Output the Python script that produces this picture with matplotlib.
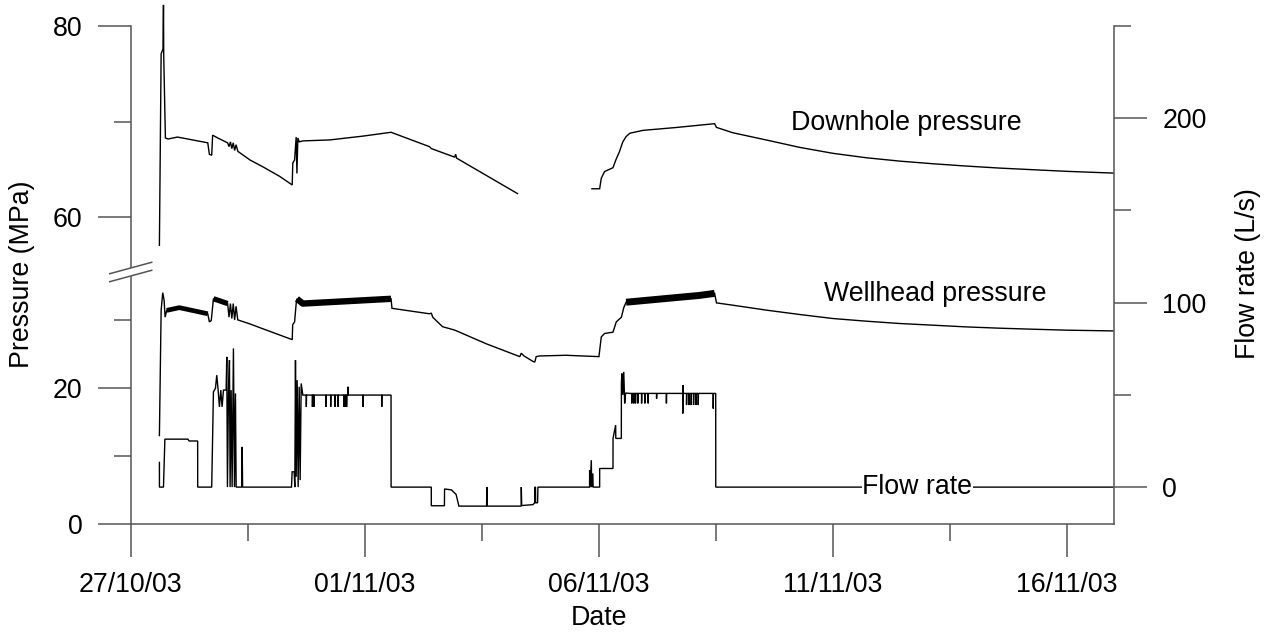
import numpy as np
import matplotlib
matplotlib.use("Agg")
import matplotlib.pyplot as plt
import matplotlib.dates as mdates
from matplotlib.patches import Polygon
from datetime import datetime

plt.rcParams['font.family'] = ['Liberation Sans', 'DejaVu Sans']

START = datetime(2003, 10, 27)

# ---------------- data (time = days since 27/10/03 00:00) ----------------
downhole_t1 = [0.613, 0.65, 0.69, 0.70, 0.705, 0.741, 0.80, 1.00, 1.646, 1.68, 1.73, 1.75,
               1.86, 2.07, 2.10, 2.13, 2.16, 2.19, 2.22, 2.25, 2.29, 2.55, 2.82, 3.18, 3.449,
               3.462, 3.50, 3.534, 3.55, 3.57, 3.60, 3.676, 4.25, 4.96, 5.56, 6.38, 6.42,
               6.92, 6.94, 6.96, 8.26]
downhole_p1 = [57.1, 77.1, 77.6, 82.2, 77.0, 68.3, 68.2, 68.4, 67.8, 66.6, 66.5, 68.6,
               68.3, 67.8, 67.4, 67.9, 67.2, 67.8, 67.0, 67.6, 66.9, 66.0, 65.3, 64.3, 63.4,
               65.7, 66.0, 68.4, 64.6, 68.3, 67.9, 68.0, 68.1, 68.5, 68.9, 67.4, 67.2,
               66.3, 66.6, 66.2, 62.5]
downhole_t2 = [9.85, 10.015, 10.05, 10.12, 10.30, 10.36, 10.44, 10.51, 10.58, 10.66, 10.94,
               11.65, 12.47, 12.51, 12.86, 13.58, 14.29, 15.0, 15.71, 16.42, 17.14, 17.85,
               18.56, 19.27, 19.99, 20.98]
downhole_p2 = [63.0, 63.0, 64.1, 64.8, 65.2, 66.0, 66.9, 67.9, 68.45, 68.8, 69.1,
               69.4, 69.8, 69.41, 68.85, 68.09, 67.32, 66.7, 66.24, 65.89, 65.61, 65.37,
               65.16, 64.99, 64.82, 64.64]

wellhead_t = [0.613, 0.65, 0.684, 0.713, 0.735, 0.77, 1.04, 1.646, 1.68, 1.72, 1.767, 1.86,
              2.07, 2.10, 2.13, 2.16, 2.19, 2.22, 2.25, 2.287, 2.55, 2.82, 3.449, 3.46, 3.50,
              3.534, 3.55, 3.676, 5.56, 5.58, 6.38, 6.42, 6.45, 6.66, 6.92, 7.59, 8.31,
              8.34, 8.40, 8.59, 8.63, 8.66, 8.73, 9.30, 10.00, 10.05, 10.12, 10.30, 10.37,
              10.48, 10.53, 10.58, 12.15, 12.47, 12.51, 12.86, 13.58, 14.29, 15.0, 15.71,
              16.42, 17.14, 17.85, 18.56, 19.27, 19.99, 20.98]
wellhead_p = [13.0, 31.4, 34.0, 32.9, 30.4, 31.4, 31.8, 30.9, 29.7, 29.9, 33.1, 32.9,
              32.4, 30.4, 32.4, 30.2, 32.4, 30.0, 32.0, 30.0, 29.4, 28.7, 27.1, 29.3, 29.7,
              32.4, 33.1, 32.4, 33.1, 31.7, 30.9, 31.0, 30.4, 29.0, 28.5, 26.5, 24.6,
              25.1, 24.7, 23.9, 23.8, 24.6, 24.7, 24.8, 24.6, 27.5, 28.0, 28.2, 29.7,
              30.4, 31.8, 32.6, 33.6, 33.9, 32.5, 32.16, 31.43, 30.79, 30.2, 29.81,
              29.47, 29.22, 28.97, 28.78, 28.63, 28.49, 28.38]
# periods where the wellhead record is a dense noisy band (start, end, band width in pt)
wellhead_noisy = [(0.77, 1.646, 3.4), (1.767, 2.07, 3.8), (3.55, 5.56, 4.6), (10.58, 12.47, 5.0)]

flow_t = [0.613, 0.614, 0.70, 0.73, 1.22, 1.25, 1.43, 1.431, 1.73, 1.767, 1.81, 1.838,
          1.867, 1.895, 1.924, 1.952, 1.981, 2.038, 2.052, 2.066, 2.088, 2.109, 2.123,
          2.145, 2.166, 2.194, 2.216, 2.237, 2.252, 2.37, 2.38, 2.39,
          3.434, 3.448, 3.491, 3.505, 3.519, 3.534, 3.555, 3.576, 3.598, 3.619, 3.641, 3.676,
          3.75, 3.751, 3.755, 3.88, 3.881, 3.885, 3.91, 3.911, 3.915, 4.17, 4.171, 4.175,
          4.27, 4.271, 4.275, 4.36, 4.361, 4.365, 4.43, 4.431, 4.435, 4.55, 4.551, 4.555,
          4.58, 4.581, 4.585, 4.61, 4.611, 4.615, 4.64, 4.641, 4.645, 4.96, 4.961, 4.965,
          5.36, 5.361, 5.365, 5.56, 5.561,
          6.419, 6.42, 6.70, 6.703, 6.85, 6.95, 7.009, 7.60, 7.607, 7.614, 8.34, 8.342,
          8.35, 8.59, 8.63, 8.632, 8.645, 8.647, 8.69, 8.697,
          9.80, 9.801, 9.81, 9.837, 9.845, 9.87, 9.875, 10.015, 10.016, 10.30, 10.301,
          10.357, 10.36, 10.478, 10.48, 10.49, 10.51, 10.53, 10.55, 10.57, 10.66,
          10.70, 10.701, 10.705, 10.74, 10.741, 10.745, 10.78, 10.781, 10.785,
          10.83, 10.831, 10.835, 10.91, 10.911, 10.915, 10.98, 10.981, 10.985,
          11.05, 11.051, 11.055, 11.23, 11.231, 11.235, 11.44, 11.441, 11.445,
          11.79, 11.791, 11.795, 11.80, 11.87, 11.871, 11.875, 11.92, 11.921, 11.925,
          11.97, 11.971, 11.975, 12.02, 12.021, 12.025, 12.07, 12.071, 12.075,
          12.12, 12.121, 12.125, 12.44, 12.441, 12.445, 12.494, 12.495, 20.98]
flow_q = [13.4, 0.0, 0.0, 26.0, 26.0, 25.0, 25.0, 0.0, 0.0, 51.7, 53.5, 60.7,
          52.6, 43.5, 52.6, 43.5, 52.6, 52.6, 70.6, 0.0, 51.0, 68.8, 0.0,
          52.6, 0.0, 75.2, 0.0, 50.8, 0.0, 0.0, 21.8, 0.0,
          0.0, 8.3, 8.3, 0.0, 68.8, 5.6, 58.0, 0.0, 54.4, 3.8, 56.2, 49.9,
          49.9, 43.5, 49.9, 49.9, 43.5, 49.9, 49.9, 43.5, 49.9, 49.9, 43.5, 49.9,
          49.9, 43.5, 49.9, 49.9, 43.5, 49.9, 49.9, 43.5, 49.9, 49.9, 43.5, 49.9,
          49.9, 43.5, 49.9, 49.9, 43.5, 49.9, 49.9, 54.4, 49.9, 49.9, 43.5, 49.9,
          49.9, 43.5, 49.9, 49.9, 0.0,
          0.0, -10.1, -10.1, -1.0, -1.5, -4.0, -10.3, -10.3, 0.0, -10.3, -10.3, 0.0,
          -10.0, -9.5, -8.5, 0.0, 0.0, -8.5, -8.5, 0.0,
          0.0, 9.2, 0.0, 14.6, 0.0, 7.4, 0.0, 0.0, 10.1, 10.1, 26.4,
          33.6, 26.4, 26.4, 56.2, 61.6, 50.0, 62.5, 45.4, 51.0, 50.8,
          50.8, 45.4, 50.8, 50.8, 45.4, 50.8, 50.8, 45.4, 50.8,
          50.8, 45.4, 50.8, 50.8, 45.4, 50.8, 50.8, 45.4, 50.8,
          50.8, 45.4, 50.8, 50.8, 48.0, 50.8, 50.8, 45.4, 50.8,
          50.8, 39.9, 55.3, 50.8, 50.8, 44.5, 50.8, 50.8, 44.5, 50.8,
          50.8, 44.5, 50.8, 50.8, 44.5, 50.8, 50.8, 44.5, 50.8,
          50.8, 44.5, 50.8, 50.8, 42.6, 50.8, 50.8, 0.0, 0.0]

pressure_major = [0, 20, 60, 80]
pressure_minor = [10, 30, 70]
flow_major = [0, 100, 200]
flow_minor = [50, 150, 250]
date_major_days = [0, 5, 10, 15, 20]
date_minor_days = [2.5, 7.5, 12.5, 17.5]

# ---------------- broken pressure scale ----------------
B1, B2 = 37.0, 54.3           # bottom segment ends / top segment starts (MPa)
K_LOW, K_HIGH = 6.8, 9.57     # relative stretch of the two segments
_vp = np.array([-1000.0, B1, B2, 1000.0])
_dp = np.array([-1000.0 * K_LOW, B1 * K_LOW, B1 * K_LOW + 0.2,
                B1 * K_LOW + 0.2 + (1000.0 - B2) * K_HIGH])


def fwd(v):
    return np.interp(v, _vp, _dp)


def inv(d):
    return np.interp(d, _dp, _vp)


# ---------------- figure ----------------
W, H = 1276, 636
fig = plt.figure(figsize=(W / 100, H / 100), dpi=100)
L, R, T, Bt = 130.7, 1114.0, 26.0, 524.0
ax = fig.add_axes([L / W, 1 - Bt / H, (R - L) / W, (Bt - T) / H])
ax2 = ax.twinx()

base = mdates.date2num(START)
spine_c = '#555555'
line_kw = dict(color='black', lw=1.0, solid_joinstyle='miter')
FS = 19.3

ax.set_yscale('function', functions=(fwd, inv))
ax.set_ylim(0, 80)
ax.set_xlim(base, base + 21)
ax2.set_ylim(-20, 250)

# data
ax.plot(base + np.array(downhole_t1), downhole_p1, clip_on=False, **line_kw)
ax.plot(base + np.array(downhole_t2), downhole_p2, clip_on=False, **line_kw)
wt = np.array(wellhead_t)
wp = np.array(wellhead_p)
ax.plot(base + wt, wp, **line_kw)
for a, b, w in wellhead_noisy:
    m = (wt >= a) & (wt <= b)
    ax.plot(base + wt[m], wp[m], color='black', lw=w, solid_capstyle='butt')
ax2.plot(base + np.array(flow_t), flow_q, **line_kw)

# ticks
ax.yaxis.set_major_locator(matplotlib.ticker.FixedLocator(pressure_major))
ax.yaxis.set_minor_locator(matplotlib.ticker.FixedLocator(pressure_minor))
ax.yaxis.set_major_formatter(matplotlib.ticker.FormatStrFormatter('%d'))
ax.yaxis.set_minor_formatter(matplotlib.ticker.NullFormatter())
ax2.yaxis.set_major_locator(matplotlib.ticker.FixedLocator(flow_major))
ax2.yaxis.set_minor_locator(matplotlib.ticker.FixedLocator(flow_minor))
ax2.yaxis.set_minor_formatter(matplotlib.ticker.NullFormatter())
ax.xaxis.set_major_locator(matplotlib.ticker.FixedLocator([base + d for d in date_major_days]))
ax.xaxis.set_minor_locator(matplotlib.ticker.FixedLocator([base + d for d in date_minor_days]))
ax.xaxis.set_major_formatter(mdates.DateFormatter('%d/%m/%y'))

for a_ in (ax, ax2):
    a_.tick_params(which='major', length=23.8, width=1.1, color=spine_c, labelsize=FS,
                   pad=11, direction='out')
    a_.tick_params(which='minor', length=12.2, width=1.1, color=spine_c, direction='out')
    for s in a_.spines.values():
        s.set_color(spine_c)
        s.set_linewidth(1.1)
    a_.spines['top'].set_visible(False)
ax.spines['right'].set_visible(False)
ax2.spines['left'].set_visible(False)
ax2.spines['bottom'].set_visible(False)
ax.tick_params(axis='x', which='major', pad=11)

# break marks on left spine
tr = ax.transAxes
yb = (Bt - 272.0) / (Bt - T)
dx = 21.0 / (R - L)
dy = 5.7 / (Bt - T)
gap = 4.0 / (Bt - T)
ax.add_patch(Polygon([(-dx, yb - dy - gap), (dx, yb + dy - gap), (dx, yb + dy + gap),
                      (-dx, yb - dy + gap)], closed=True, transform=tr, facecolor='white',
                     edgecolor='none', clip_on=False, zorder=5))
for g in (-gap, gap):
    ax.plot([-dx, dx], [yb - dy + g, yb + dy + g], transform=tr, color=spine_c, lw=1.1,
            clip_on=False, zorder=6)

# series labels
ax.text(base + 16.56, 69.9, 'Downhole pressure', fontsize=FS, ha='center', va='center')
ax.text(base + 17.18, 33.8, 'Wellhead pressure', fontsize=FS, ha='center', va='center')
ax2.text(base + 16.80, 0, 'Flow rate', fontsize=FS, ha='center', va='center', zorder=10,
         bbox=dict(facecolor='white', edgecolor='none', pad=0.5))

# axis titles
fig.text(22.5 / W, 1 - 274 / H, 'Pressure (MPa)', rotation=90, fontsize=FS,
         ha='center', va='center')
fig.text(1248 / W, 1 - 274 / H, 'Flow rate (L/s)', rotation=90, fontsize=FS,
         ha='center', va='center')
fig.text(599 / W, 1 - 618 / H, 'Date', fontsize=FS, ha='center', va='center')

fig.savefig('out.png', dpi=100)
